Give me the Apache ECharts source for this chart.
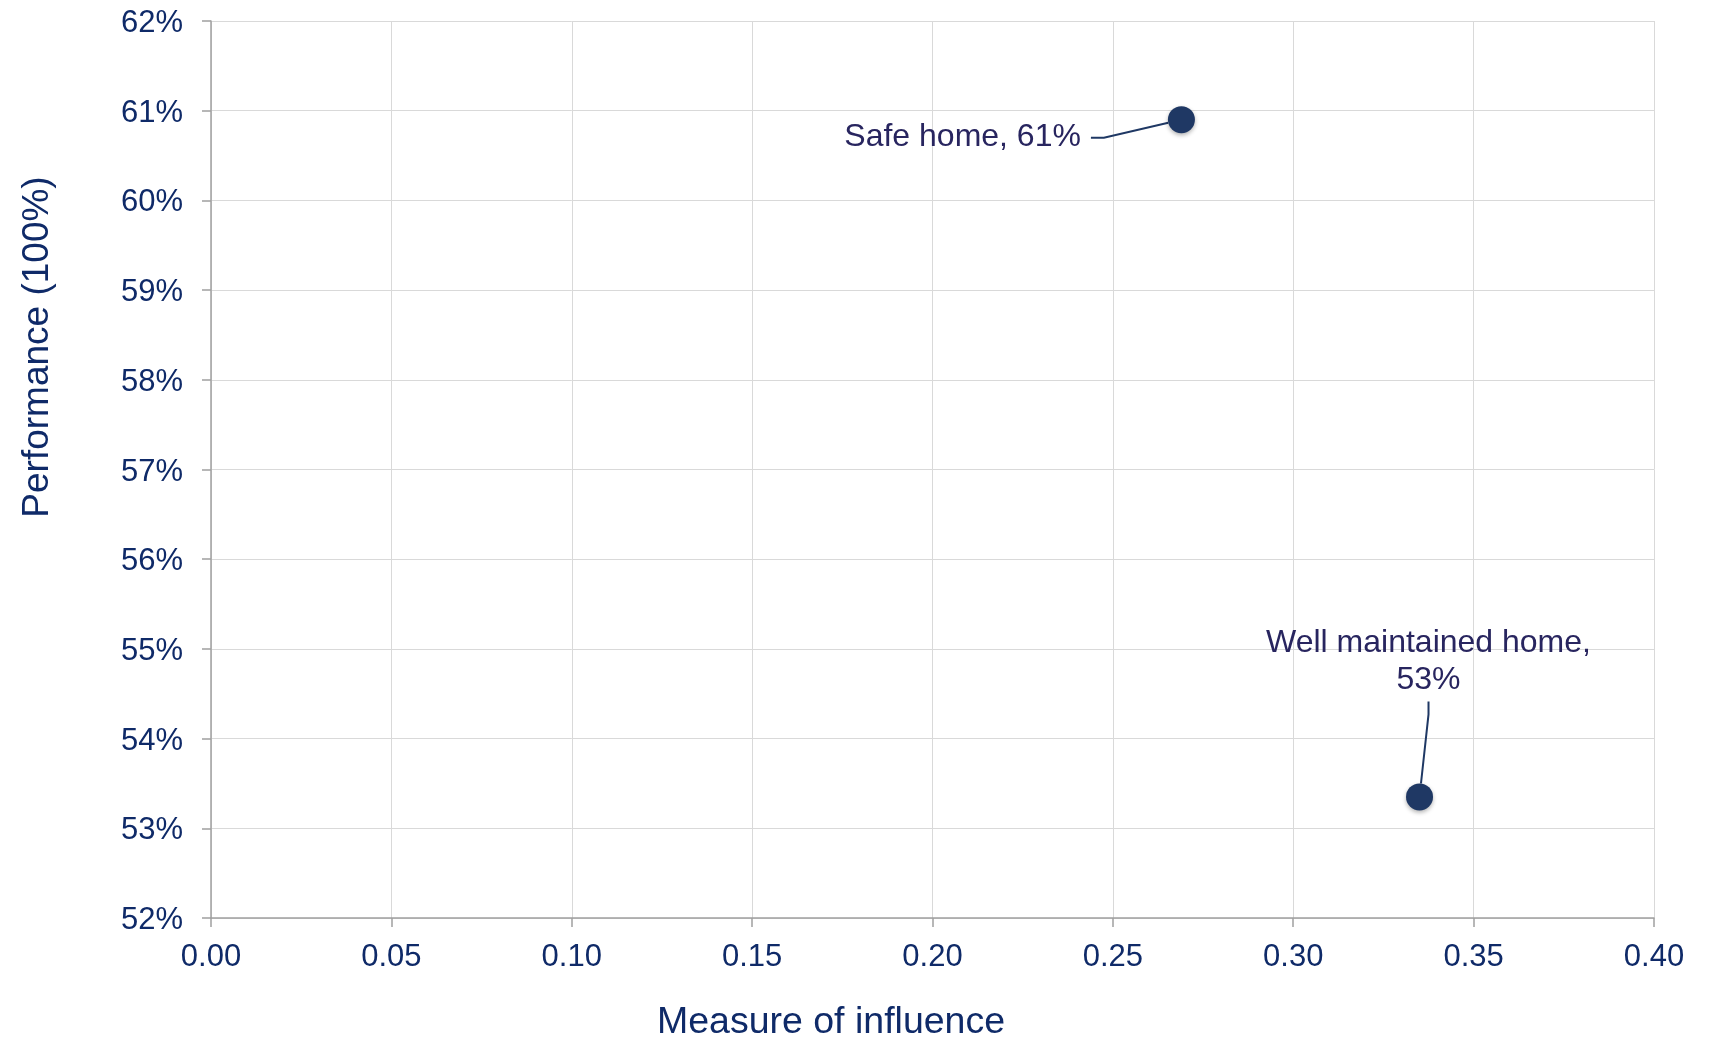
<!DOCTYPE html>
<html>
<head>
<meta charset="utf-8">
<title>Performance vs measure of influence</title>
<script src="https://cdn.jsdelivr.net/npm/echarts@6/dist/echarts.min.js"></script>
<style>
  html, body { margin: 0; padding: 0; background: #ffffff; }
  #chart { width: 1716px; height: 1038px; }
</style>
</head>
<body>
<div id="chart"></div>
<script>
// Drivers plotted by influence (x) against performance in percent (y)
const driverNames = ['Safe home', 'Well maintained home'];
const influenceValues = [0.269, 0.335];
const performanceValues = [60.9, 53.35];
const performanceLabels = ['61%', '53%'];

// Axis ranges and ticks
const xTicks = { min: 0, max: 0.4, step: 0.05 };
const yTicks = { min: 52, max: 62, step: 1 };

const FONT = '"Liberation Sans", Arial, Helvetica, sans-serif';
const TICK_COLOR = '#0f2a68';
const LABEL_COLOR = '#28255f';
const MARK_COLOR = '#1f3864';
const AXIS_COLOR = '#a0a0a0';
const GRID_COLOR = '#d9d9d9';

// Per-point label placement: side of the marker and a shift away from it
const labelPlacement = [
  { position: 'left', dx: -72, dy: 18, padding: [0, 10, 0, 0], align: 'right', text: driverNames[0] + ', ' + performanceLabels[0] },
  { position: 'top', dx: 9, dy: -77, padding: [0, 0, 3, 0], align: 'center', text: driverNames[1] + ',\n' + performanceLabels[1] }
];

const points = driverNames.map((name, i) => ({
  name: name,
  value: [influenceValues[i], performanceValues[i]],
  label: {
    position: labelPlacement[i].position,
    padding: labelPlacement[i].padding,
    align: labelPlacement[i].align,
    formatter: labelPlacement[i].text
  }
}));

const chart = echarts.init(document.getElementById('chart'), null, { renderer: 'canvas' });

chart.setOption({
  backgroundColor: '#ffffff',
  animation: false,
  textStyle: { fontFamily: FONT },
  grid: { left: 211, right: 62, top: 21, bottom: 120 },
  xAxis: {
    type: 'value',
    min: xTicks.min,
    max: xTicks.max,
    interval: xTicks.step,
    axisLine: { show: true, lineStyle: { color: AXIS_COLOR, width: 1.5 } },
    axisTick: { show: true, length: 9, lineStyle: { color: AXIS_COLOR, width: 1.5 } },
    splitLine: { show: true, lineStyle: { color: GRID_COLOR, width: 1 } },
    axisLabel: {
      margin: 24,
      color: TICK_COLOR,
      fontSize: 31,
      fontFamily: FONT,
      formatter: v => v.toFixed(2)
    }
  },
  yAxis: {
    type: 'value',
    min: yTicks.min,
    max: yTicks.max,
    interval: yTicks.step,
    axisLine: { show: true, lineStyle: { color: AXIS_COLOR, width: 1.5 } },
    axisTick: { show: true, length: 9, lineStyle: { color: AXIS_COLOR, width: 1.5 } },
    splitLine: { show: true, lineStyle: { color: GRID_COLOR, width: 1 } },
    axisLabel: {
      margin: 28,
      formatter: v => '{t|' + v + '%}',
      rich: {
        t: {
          color: TICK_COLOR,
          fontSize: 31,
          fontFamily: FONT,
          padding: [5, 0, 0, 0]
        }
      }
    }
  },
  graphic: [
    {
      type: 'text',
      x: 831,
      y: 1023,
      style: {
        text: 'Measure of influence',
        fill: TICK_COLOR,
        font: '37.5px ' + FONT,
        textAlign: 'center',
        textVerticalAlign: 'middle'
      }
    },
    {
      type: 'text',
      x: 38,
      y: 347,
      rotation: Math.PI / 2,
      style: {
        text: 'Performance (100%)',
        fill: TICK_COLOR,
        font: '37px ' + FONT,
        textAlign: 'center',
        textVerticalAlign: 'middle'
      }
    }
  ],
  series: [
    {
      type: 'scatter',
      symbol: 'circle',
      symbolSize: 27,
      data: points,
      itemStyle: {
        color: MARK_COLOR,
        opacity: 1,
        shadowColor: 'rgba(0,0,0,0.3)',
        shadowBlur: 4,
        shadowOffsetY: 2
      },
      label: {
        show: true,
        color: LABEL_COLOR,
        fontSize: 32,
        lineHeight: 37,
        fontFamily: FONT
      },
      labelLayout: function (params) {
        const p = labelPlacement[params.dataIndex];
        return { dx: p.dx, dy: p.dy };
      },
      labelLine: {
        show: true,
        length2: 13,
        lineStyle: { color: MARK_COLOR, width: 2 }
      },
      emphasis: { disabled: true }
    }
  ]
});
</script>
</body>
</html>
